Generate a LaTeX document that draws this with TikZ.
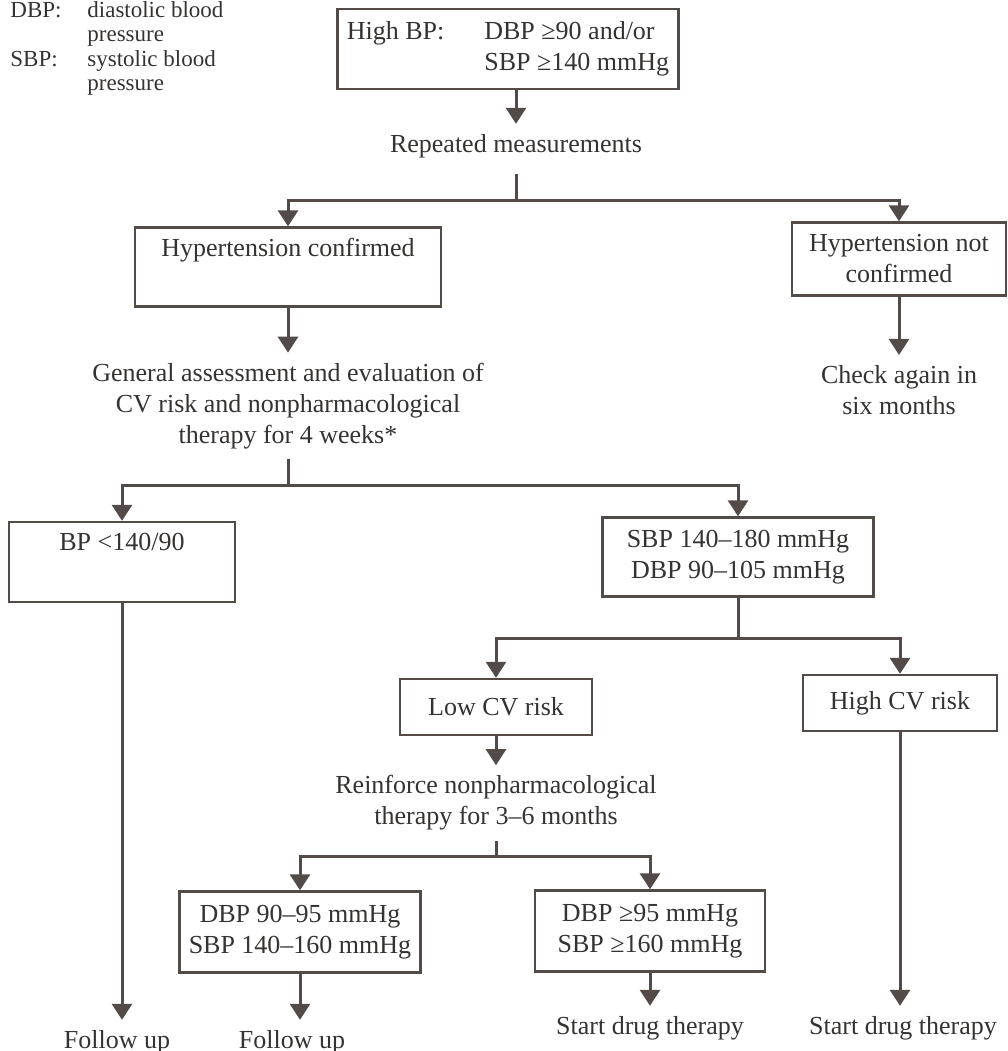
\documentclass[tikz,border=0pt]{standalone}
\usepackage{fontspec}
\setmainfont{Liberation Serif}
\usetikzlibrary{arrows.meta,positioning,calc}
\definecolor{linegrey}{HTML}{524B47}
\definecolor{inkgrey}{HTML}{353331}

\begin{document}
\begin{tikzpicture}[x=0.5pt,y=-0.5pt,
  box/.style={draw=linegrey,line width=1.2pt,fill=white,inner sep=0pt,align=center,
              text=inkgrey,font=\fontsize{13}{15.5}\selectfont},
  txt/.style={inner xsep=2pt,inner ysep=5pt,align=center,text=inkgrey,
              font=\fontsize{13}{15.5}\selectfont},
  key/.style={inner sep=0pt,anchor=base west,text=inkgrey,font=\fontsize{11.5}{13}\selectfont},
  wire/.style={draw=linegrey,line width=1.5pt},
  arr/.style={wire,-{Triangle[length=8pt,width=10pt]}}]
\useasboundingbox (0,0) rectangle (1008,1051);
\clip (0,0) rectangle (1008,1051);
\node[key] (dbpk)  at (10,17) {DBP:};
\node[key] (dbpv)  at (87,17) {diastolic blood};
\node[key] (dbpv2) at (87,41) {pressure};
\node[key] (sbpk)  at (10,66) {SBP:};
\node[key] (sbpv)  at (87,66) {systolic blood};
\node[key] (sbpv2) at (87,90) {pressure};
\node[box,minimum width=170.5pt,minimum height=40pt] (high) at (508,49)
  {\begin{tabular}{@{}l@{\hspace{20pt}}l@{}}High BP: & DBP ≥90 and/or\\ & SBP ≥140 mmHg\end{tabular}};
\node[txt] (rep) at (516,146) {Repeated measurements};
\node[box,minimum width=153pt,minimum height=39.5pt] (conf) at (288,267) {Hypertension confirmed\\\strut};
\node[box,minimum width=107pt,minimum height=36.5pt] (noconf) at (899,259) {Hypertension not\\confirmed};
\node[txt] (assess) at (288,406) {General assessment and evaluation of\\CV risk and nonpharmacological\\therapy for 4 weeks*};
\node[txt] (recheck) at (899,390) {Check again in\\six months};
\node[box,minimum width=113pt,minimum height=40pt] (normal) at (122,562) {BP <140/90\\\strut};
\node[box,minimum width=135.5pt,minimum height=39.5pt] (mild) at (738,557) {SBP 140–180 mmHg\\DBP 90–105 mmHg};
\node[box,minimum width=96pt,minimum height=28pt] (lowcv) at (496,707) {Low CV risk};
\node[box,minimum width=97pt,minimum height=28pt] (highcv) at (900,703) {High CV risk};
\node[txt] (reinf) at (496,803) {Reinforce nonpharmacological\\therapy for 3–6 months};
\node[box,minimum width=120.5pt,minimum height=40.5pt] (lowband) at (300,932) {DBP 90–95 mmHg\\SBP 140–160 mmHg};
\node[box,minimum width=115pt,minimum height=40.5pt] (highband) at (650,931) {DBP ≥95 mmHg\\SBP ≥160 mmHg};
\node[txt] (fu1) at (117,1042) {Follow up};
\node[txt] (fu2) at (292,1042) {Follow up};
\node[txt] (drug1) at (650,1028) {Start drug therapy};
\node[txt] (drug2) at (903,1028) {Start drug therapy};
\coordinate (j1) at (516,200);
\coordinate (j2) at (288,485);
\coordinate (j3) at (738,638);
\coordinate (j4) at (496,856);
\draw[arr] (high.south -| rep) -- (rep);
\draw[wire,shorten <=3pt] (rep) -- (j1);
\draw[arr] (j1) -| (conf);
\draw[arr] (j1) -| (noconf);
\draw[arr] (conf) -- (assess);
\draw[arr] (noconf) -- (recheck);
\draw[wire] (assess) -- (j2);
\draw[arr] (j2) -| (normal);
\draw[arr] (j2) -| (mild);
\draw[arr] (normal) -- (normal |- fu1.north);
\draw[wire] (mild) -- (j3);
\draw[arr] (j3) -| (lowcv);
\draw[arr] (j3) -| (highcv);
\draw[arr] (lowcv) -- (reinf);
\draw[arr] (highcv) -- (highcv |- drug2.north);
\draw[wire] (reinf) -- (j4);
\draw[arr] (j4) -| (lowband);
\draw[arr] (j4) -| (highband);
\draw[arr] (lowband) -- (lowband |- fu2.north);
\draw[arr] (highband) -- (drug1);
\end{tikzpicture}
\end{document}
